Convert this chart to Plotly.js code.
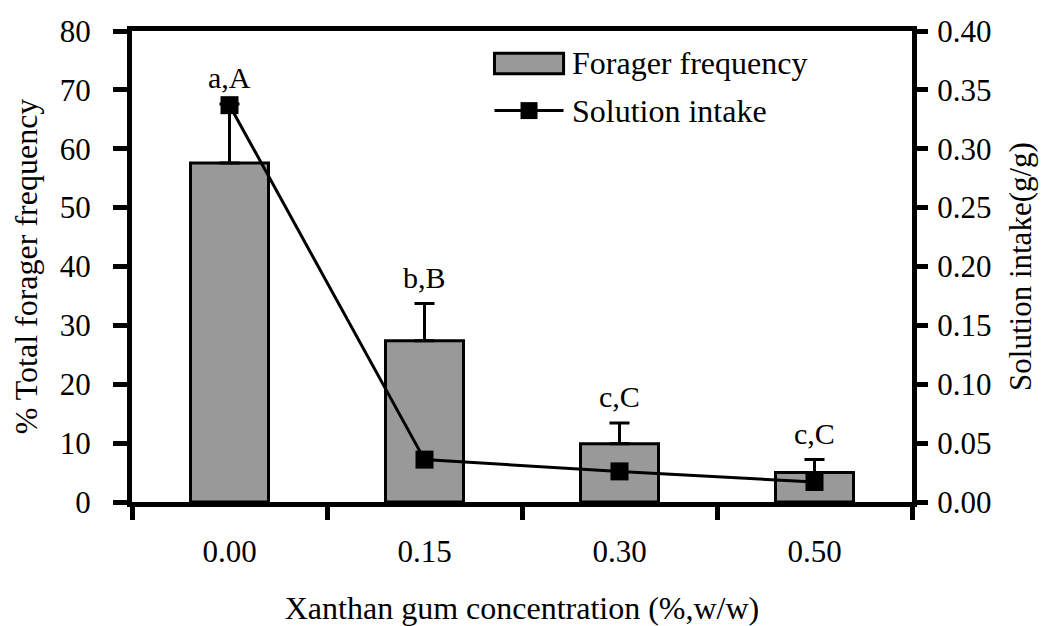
<!DOCTYPE html>
<html>
<head>
<meta charset="utf-8">
<script src="https://cdn.plot.ly/plotly-3.0.1.min.js"></script>
<style>html,body{margin:0;padding:0;background:#fff;}#chart{width:1050px;height:626px;}</style>
</head>
<body>
<div id="chart"></div>
<script>
// Data
const categories = ["0.00", "0.15", "0.30", "0.50"];
const foragerFrequency = [57.6, 27.4, 9.9, 5.0];
const foragerError = [10.0, 6.3, 3.5, 2.2];
const solutionIntake = [0.337, 0.036, 0.026, 0.017];
const letterLabels = ["a,A", "b,B", "c,C", "c,C"];

const FONT = "'Liberation Serif', 'Times New Roman', serif";

const barTrace = {
  type: "bar",
  x: categories,
  y: foragerFrequency,
  name: "Forager frequency",
  marker: {color: "#999999", line: {color: "#000", width: 3}},
  error_y: {type: "data", array: foragerError, arrayminus: foragerError.map(() => 0), symmetric: false,
            color: "#000", thickness: 3, width: 10},
  showlegend: false,
  yaxis: "y"
};

const lineTrace = {
  type: "scatter",
  mode: "lines+markers",
  x: categories,
  y: solutionIntake,
  name: "Solution intake",
  line: {color: "#000", width: 3},
  marker: {symbol: "square", size: 18, color: "#000"},
  showlegend: false,
  yaxis: "y2"
};

const annotations = categories.map((c, i) => ({
  x: i, y: foragerFrequency[i] + foragerError[i], xref: "x", yref: "y",
  text: letterLabels[i], showarrow: false, yanchor: "bottom", yshift: 8,
  font: {family: FONT, size: 30, color: "#000"}
}));

// legend (custom, paper coords)
annotations.push({x: 0.561, y: 0.932, xref: "paper", yref: "paper", xanchor: "left", yanchor: "middle",
  text: "Forager frequency", showarrow: false, font: {family: FONT, size: 32, color: "#000"}});
annotations.push({x: 0.561, y: 0.83, xref: "paper", yref: "paper", xanchor: "left", yanchor: "middle",
  text: "Solution intake", showarrow: false, font: {family: FONT, size: 32, color: "#000"}});

const shapes = [
  {type: "rect", xref: "paper", yref: "paper", x0: 0.4647, x1: 0.5533, y0: 0.909, y1: 0.953,
   fillcolor: "#999999", line: {color: "#000", width: 3}},
  {type: "line", xref: "paper", yref: "paper", x0: 0.4647, x1: 0.5533, y0: 0.831, y1: 0.831,
   line: {color: "#000", width: 3}},
  {type: "rect", xref: "paper", yref: "paper", x0: 0.5090 - 0.0109, x1: 0.5090 + 0.0109, y0: 0.831 - 0.018, y1: 0.831 + 0.018,
   fillcolor: "#000", line: {color: "#000", width: 0}}
];

const layout = {
  width: 1050, height: 626,
  margin: {l: 132, r: 138, t: 31, b: 124},
  paper_bgcolor: "#fff", plot_bgcolor: "#fff",
  font: {family: FONT, size: 31, color: "#000"},
  bargap: 0.6,
  showlegend: false,
  xaxis: {
    type: "category", range: [-0.5, 3.5], tickson: "boundaries",
    showline: true, linecolor: "#000", linewidth: 5, mirror: true,
    ticks: "outside", ticklen: 13, tickwidth: 5, tickcolor: "#000",
    showgrid: false, zeroline: false, ticklabelstandoff: 18,
    tickfont: {family: FONT, size: 31},
    title: {text: "Xanthan gum concentration (%,w/w)", font: {family: FONT, size: 32}, standoff: 33}
  },
  yaxis: {
    range: [0, 80], dtick: 10, showline: true, linecolor: "#000", linewidth: 5,
    ticks: "outside", ticklen: 14, tickwidth: 5, tickcolor: "#000",
    showgrid: false, zeroline: false, ticklabelstandoff: 16,
    tickfont: {family: FONT, size: 31},
    title: {text: "% Total forager frequency", font: {family: FONT, size: 32}, standoff: 14}
  },
  yaxis2: {
    range: [0, 0.4], dtick: 0.05, tickformat: ".2f", overlaying: "y", side: "right",
    showline: true, linecolor: "#000", linewidth: 5,
    ticks: "outside", ticklen: 11, tickwidth: 5, tickcolor: "#000",
    showgrid: false, zeroline: false, ticklabelstandoff: 3,
    tickfont: {family: FONT, size: 31},
    title: {text: "Solution intake(g/g)", font: {family: FONT, size: 31}, standoff: 20}
  },
  annotations: annotations,
  shapes: shapes
};

Plotly.newPlot("chart", [barTrace, lineTrace], layout, {displayModeBar: false, staticPlot: true});
</script>
</body>
</html>
